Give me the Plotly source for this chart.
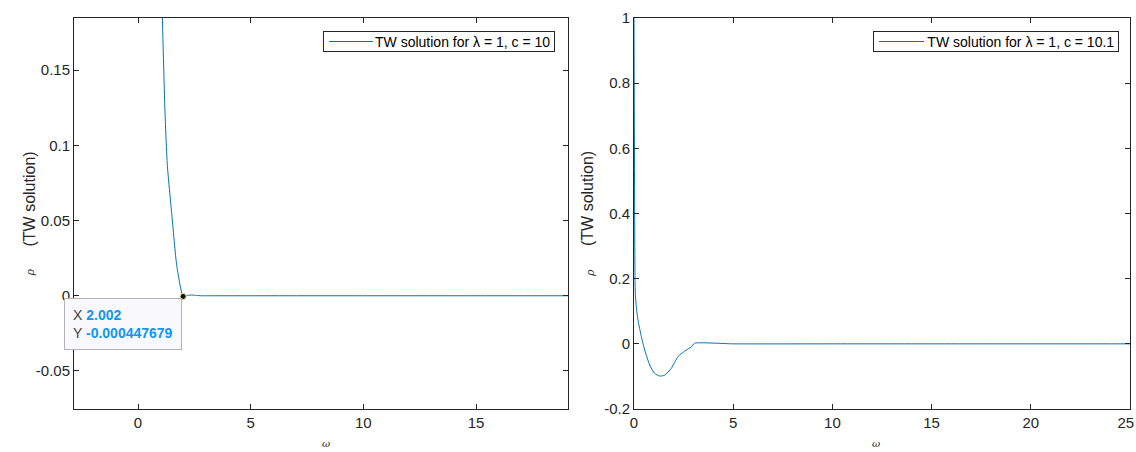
import plotly.graph_objects as go

# ---- data ----
omega_c10 = [0.0, 0.5, 1.0, 1.08, 1.2, 1.3, 1.5, 1.72, 2.002, 2.2, 2.4, 2.6, 2.8, 3.0, 5, 10, 15, 20, 25]
rho_c10 = [1.0, 0.6, 0.23, 0.185, 0.121, 0.087, 0.054, 0.02, -0.000447679, 0.0003, 0.0005, 0.0002, 0.0, 0.0, 0, 0, 0, 0, 0]

omega_c101 = [0.0, 0.05, 0.07, 0.116, 0.2, 0.37, 0.54, 0.79, 1.04, 1.3, 1.55, 1.88, 2.22, 2.56, 2.89, 3.06, 5, 10, 15, 20, 25]
rho_c101 = [1.0, 0.2, 0.15, 0.114, 0.073, 0.022, -0.019, -0.065, -0.091, -0.099, -0.096, -0.075, -0.039, -0.022, -0.009, 0.002, 0, 0, 0, 0, 0]

tip_x = 2.002
tip_y = -0.000447679

left_yticks = [-0.05, 0, 0.05, 0.1, 0.15]
left_yticktext = ["-0.05", "0", "0.05", "0.1", "0.15"]
left_xticks = [0, 5, 10, 15]
right_yticks = [-0.2, 0, 0.2, 0.4, 0.6, 0.8, 1]
right_yticktext = ["-0.2", "0", "0.2", "0.4", "0.6", "0.8", "1"]
right_xticks = [0, 5, 10, 15, 20, 25]
right_xticktext = ["0", "5", "10", "15", "20", "25&nbsp;&nbsp;"]

legend_left = "TW solution for λ = 1, c = 10"
legend_right = "TW solution for λ = 1, c = 10.1"

W, H = 1136, 452
LINE = "#0072BD"
AX = "#262626"
FONT = "Liberation Sans, Arial, Helvetica, sans-serif"

fig = go.Figure()
fig.add_trace(go.Scatter(x=omega_c10, y=rho_c10, mode="lines",
                         line=dict(color=LINE, width=1, shape="spline", smoothing=0.5),
                         name=legend_left, xaxis="x", yaxis="y", showlegend=False))
fig.add_trace(go.Scatter(x=[tip_x], y=[tip_y], mode="markers",
                         marker=dict(color="#111111", size=6, line=dict(color="#e8dc8a", width=1)),
                         showlegend=False, xaxis="x", yaxis="y"))
fig.add_trace(go.Scatter(x=omega_c101, y=rho_c101, mode="lines",
                         line=dict(color=LINE, width=1, shape="spline", smoothing=0.5),
                         name=legend_right, xaxis="x2", yaxis="y2", showlegend=False))


def px_x(p):
    return p / W


def px_y(p):
    return 1 - p / H


axis_common = dict(showgrid=False, zeroline=False, showline=True, linecolor=AX, linewidth=1,
                   mirror="ticks", ticks="inside", ticklen=5, tickcolor=AX, automargin=False,
                   ticklabeloverflow="allow",
                   tickfont=dict(family=FONT, size=15, color=AX))

fig.update_layout(
    width=W, height=H,
    margin=dict(l=0, r=0, t=0, b=0, autoexpand=False),
    paper_bgcolor="white", plot_bgcolor="white",
    font=dict(family=FONT, color=AX),
    showlegend=False,
    xaxis=dict(domain=[px_x(74), px_x(568)], range=[-2.84, 19.08], anchor="y",
               tickvals=left_xticks, **axis_common),
    yaxis=dict(domain=[px_y(409), px_y(18)], range=[-0.0753, 0.1847], anchor="x",
               tickvals=left_yticks, ticktext=left_yticktext, **axis_common),
    xaxis2=dict(domain=[px_x(634), px_x(1130)], range=[0, 25.0001], anchor="y2",
                tickvals=right_xticks, ticktext=right_xticktext, **axis_common),
    yaxis2=dict(domain=[px_y(409), px_y(18)], range=[-0.2, 1.0001], anchor="x2",
                tickvals=right_yticks, ticktext=right_yticktext, **axis_common),
)

annotations = []
shapes = []
for xc in (19, 588):
    annotations.append(dict(x=px_x(xc), y=px_y(199), xref="paper", yref="paper",
                            text="(TW solution)", textangle=-90, showarrow=False,
                            font=dict(family=FONT, size=16, color=AX)))
    annotations.append(dict(x=px_x(xc + 2), y=px_y(273), xref="paper", yref="paper",
                            text="<i>ρ</i>", textangle=-90, showarrow=False,
                            font=dict(family="DejaVu Serif, serif", size=11, color=AX)))
for xc in (320, 882):
    annotations.append(dict(x=px_x(xc), y=px_y(451), xref="paper", yref="paper",
                            yanchor="bottom", text="<i>ω</i>", showarrow=False,
                            font=dict(family="DejaVu Serif, serif", size=10, color=AX)))

# legend boxes (MATLAB-style, compact)
for label, box_l, box_r, samp_l, samp_r in ((legend_left, 323, 555, 329, 373),
                                             (legend_right, 873, 1119, 879, 924)):
    annotations.append(dict(
        x=px_x(box_r), y=px_y(31), xref="paper", yref="paper", xanchor="right", yanchor="top",
        text=label + "&nbsp;", showarrow=False, align="right",
        width=box_r - box_l - 2, height=19, borderpad=0,
        bordercolor=AX, borderwidth=1, bgcolor="rgba(0,0,0,0)",
        font=dict(family=FONT, size=14, color="#000000")))
    shapes.append(dict(type="line", xref="paper", yref="paper", layer="above",
                       x0=px_x(samp_l), x1=px_x(samp_r), y0=px_y(41.5), y1=px_y(41.5),
                       line=dict(color=LINE, width=1)))

annotations.append(dict(
    x=tip_x, y=tip_y, xref="x", yref="y", xanchor="right", yanchor="top",
    xshift=-1, yshift=-2, showarrow=False, align="left",
    text=("<span style='color:#404040'>X</span> <b><span style='color:#0d96f2'>2.002</span></b><br>"
          "<span style='color:#404040'>Y</span> <b><span style='color:#0d96f2'>-0.000447679</span></b>"),
    font=dict(family=FONT, size=14),
    bgcolor="#f8f8fd", bordercolor="#b4b4b4", borderwidth=1, borderpad=8,
))
fig.update_layout(annotations=annotations, shapes=shapes)

fig.write_html("out.html", config={"displayModeBar": False},
               post_script="document.body.style.margin='0';document.body.style.overflow='hidden';")
